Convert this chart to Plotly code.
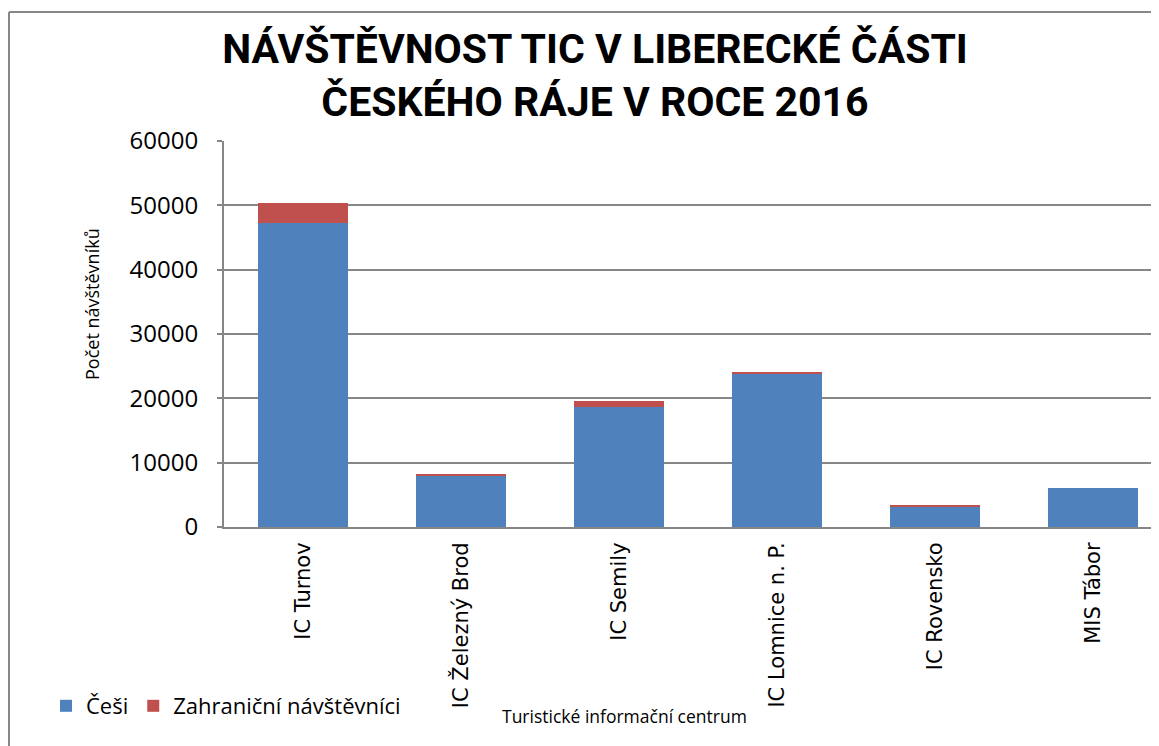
import plotly.graph_objects as go

categories = ["IC Turnov", "IC Železný Brod", "IC Semily", "IC Lomnice n. P.", "IC Rovensko", "MIS Tábor"]
cesi = [47200, 8000, 18700, 23800, 3150, 6000]
zahranicni = [3100, 200, 950, 150, 270, 0]
y_ticks = [0, 10000, 20000, 30000, 40000, 50000, 60000]

# page offset (browser body margin)
OX, OY = 8, 8
W, H = 1159 - OX, 746 - OY
L = 224 - OX
T = 141 - OY
B = H - (527 - OY)
R = 0
pw = W - L - R
ph = H - T - B

def px(x):
    return (x - OX - L) / pw

def py(y):
    return (H - B - (y - OY)) / ph

fig = go.Figure()
fig.add_trace(go.Bar(x=categories, y=cesi, name="Češi",
                     marker=dict(color="#4F81BD", line=dict(width=0))))
fig.add_trace(go.Bar(x=categories, y=zahranicni, name="Zahraniční návštěvníci",
                     marker=dict(color="#C0504D", line=dict(width=0))))

fig.update_layout(
    width=W, height=H,
    margin=dict(l=L, r=R, t=T, b=B, autoexpand=False),
    barmode="stack",
    bargap=0.43,
    plot_bgcolor="white",
    paper_bgcolor="white",
    font=dict(family="Open Sans", color="#000000"),
    title=dict(
        text="NÁVŠTĚVNOST TIC V LIBERECKÉ ČÁSTI<br>ČESKÉHO RÁJE V ROCE 2016",
        font=dict(family="Roboto", size=41, color="#000000", weight="bold"),
        x=(595 - OX) / W, xref="container", xanchor="center",
        y=1 - 55 / H, yref="container", yanchor="top",
        automargin=False,
    ),
    legend=dict(
        orientation="h",
        x=px(46), xref="paper", xanchor="left",
        y=py(706), yref="paper", yanchor="middle",
        font=dict(family="Open Sans", size=22, color="#000000"),
        bgcolor="rgba(0,0,0,0)",
        itemwidth=30,
        traceorder="normal",
    ),
    xaxis=dict(
        range=[-0.5, -0.5 + pw / 158.0],
        tickangle=-90,
        tickfont=dict(family="DejaVu Sans", size=21, color="#000000"),
        showline=True, linecolor="#868686", linewidth=2,
        showgrid=False,
        ticks="",
        ticklabelstandoff=5,
        automargin=False,
    ),
    yaxis=dict(
        range=[0, 60000],
        tickvals=y_ticks,
        ticktext=[str(v) for v in y_ticks],
        tickfont=dict(family="Open Sans", size=24, color="#000000"),
        showline=True, linecolor="#868686", linewidth=2,
        showgrid=True, gridcolor="#878787", gridwidth=1.5,
        ticks="outside", ticklen=5, tickcolor="#868686", tickwidth=2,
        ticklabelstandoff=14,
        zeroline=False,
        automargin=False,
    ),
    annotations=[
        dict(text="Počet návštěvníků", xref="paper", yref="paper",
             x=px(92), y=py(304), textangle=-90, showarrow=False,
             xanchor="center", yanchor="middle",
             font=dict(family="Open Sans", size=18, color="#000000")),
        dict(text="Turistické informační centrum", xref="paper", yref="paper",
             x=px(624), y=py(716), showarrow=False,
             xanchor="center", yanchor="middle",
             font=dict(family="Open Sans", size=17.5, color="#000000")),
    ],
    shapes=[
        dict(type="line", xref="paper", yref="paper",
             x0=px(9), y0=py(12), x1=px(1170), y1=py(12),
             line=dict(color="#888888", width=2)),
        dict(type="line", xref="paper", yref="paper",
             x0=px(9), y0=py(12), x1=px(9), y1=py(760),
             line=dict(color="#888888", width=2)),
    ],
)

fig.write_html("out.html")
